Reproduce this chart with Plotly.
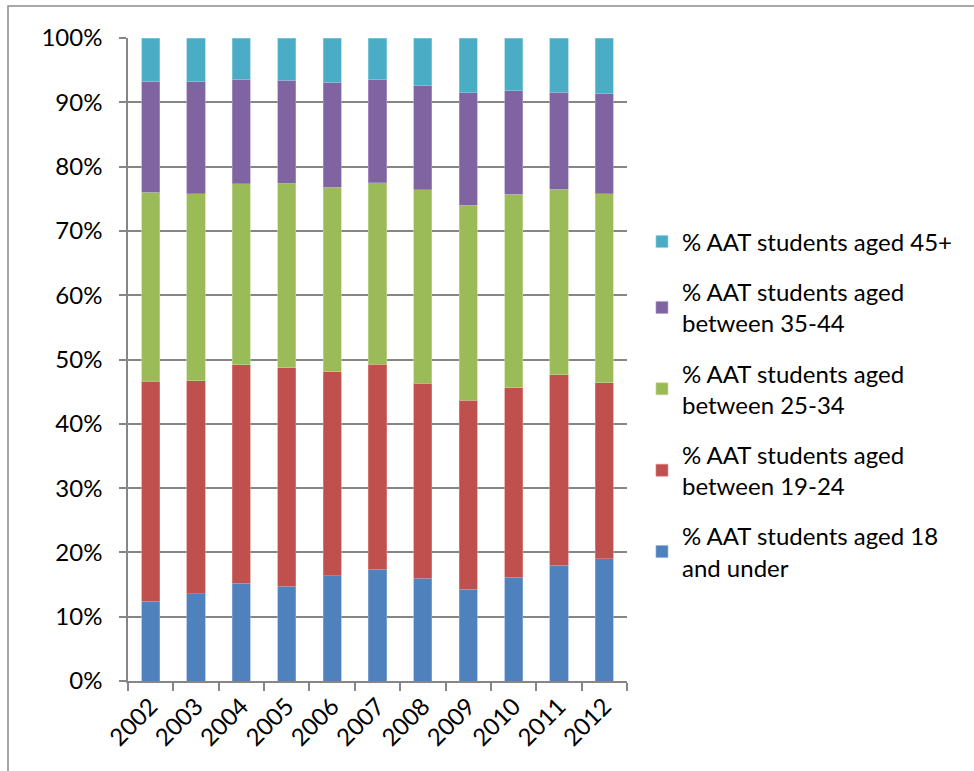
import plotly.graph_objects as go

years = ["2002", "2003", "2004", "2005", "2006", "2007", "2008", "2009", "2010", "2011", "2012"]

# Share of AAT students in each age band, per year (percent)
aged_18_under = [12.4, 13.6, 15.2, 14.7, 16.4, 17.4, 16.0, 14.3, 16.1, 18.0, 19.0]
aged_19_24 = [34.2, 33.1, 34.0, 34.0, 31.7, 31.9, 30.3, 29.4, 29.5, 29.6, 27.4]
aged_25_34 = [29.4, 29.1, 28.1, 28.7, 28.7, 28.2, 30.1, 30.3, 30.1, 28.9, 29.4]
aged_35_44 = [17.3, 17.4, 16.3, 16.0, 16.3, 16.0, 16.2, 17.5, 16.1, 15.1, 15.5]
aged_45_plus = [6.7, 6.8, 6.4, 6.6, 6.9, 6.5, 7.4, 8.5, 8.2, 8.4, 8.7]

series = [
    ("% AAT students aged 18<br>and under", aged_18_under, "#4F81BD", "#8FAEDB"),
    ("% AAT students aged<br>between 19-24", aged_19_24, "#C0504D", "#E08A88"),
    ("% AAT students aged<br>between 25-34", aged_25_34, "#9BBB59", "#C3DA94"),
    ("% AAT students aged<br>between 35-44", aged_35_44, "#8064A2", "#B19DCB"),
    ("% AAT students aged 45+", aged_45_plus, "#4BACC6", "#8FD0E1"),
]

FONT = "Lato"
GRID = "#868686"

fig = go.Figure()
n = len(series)
for i, (name, vals, color, edge) in enumerate(series):
    fig.add_trace(go.Bar(
        x=years,
        y=[v / 100 for v in vals],
        name=name,
        legendgroup=f"g{i}",
        legendrank=n - i,  # oldest age band listed first
        marker=dict(color=color, line=dict(color=edge, width=0.6)),
    ))

fig.update_layout(
    barmode="stack",
    bargap=0.6,
    width=974,
    height=771,
    margin=dict(l=128, r=347, t=38, b=90),
    paper_bgcolor="white",
    plot_bgcolor="white",
    font=dict(family=FONT, size=24, color="black"),
    legend=dict(
        traceorder="grouped",
        tracegroupgap=16,
        x=1.03,
        xanchor="left",
        y=0.43,
        yanchor="middle",
        font=dict(family=FONT, size=24, color="black"),
        itemwidth=30,
    ),
    showlegend=True,
)

fig.update_yaxes(
    range=[0, 1],
    tickformat=".0%",
    dtick=0.1,
    showgrid=True,
    gridcolor=GRID,
    gridwidth=1.5,
    showline=True,
    linecolor=GRID,
    linewidth=1.5,
    ticks="outside",
    ticklen=7,
    tickcolor=GRID,
    tickwidth=1.5,
    ticklabelstandoff=12,
    tickfont=dict(family=FONT, size=24, color="black"),
    zeroline=False,
)

fig.update_xaxes(
    showline=True,
    linecolor=GRID,
    linewidth=1.5,
    ticks="outside",
    tickson="boundaries",
    ticklen=8,
    tickcolor=GRID,
    tickwidth=1.5,
    tickangle=-45,
    tickfont=dict(family=FONT, size=24, color="black"),
    showgrid=False,
)

# Chart frame
fig.add_shape(
    type="rect", xref="paper", yref="paper",
    x0=(8 - 128) / 499, x1=(990 - 128) / 499,
    y0=(681 - 790) / 643, y1=(681 - 6) / 643,
    line=dict(color="#8C8C8C", width=1.5),
    layer="below",
)

fig.write_html("out.html")
